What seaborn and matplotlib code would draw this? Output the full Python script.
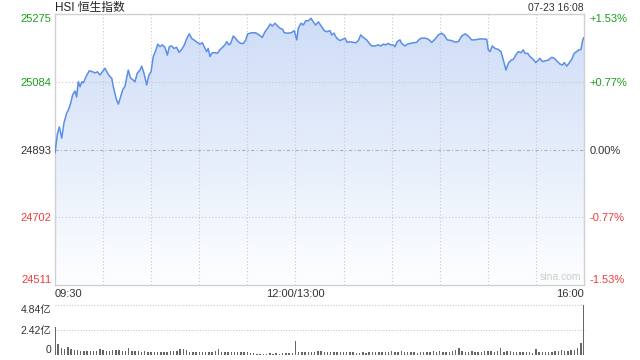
import numpy as np
import matplotlib
matplotlib.use("Agg")
import matplotlib.pyplot as plt
import seaborn as sns
from matplotlib.colors import LinearSegmentedColormap

# trading minutes since 09:30 (lunch break removed) and HSI level
minutes = [0, 1.4, 2.7, 4.2, 5.6, 7.3, 8.3, 9.8, 11.0, 12.5,
           13.5, 14.5, 15.6, 16.7, 17.7, 19.3, 21.4, 23.5, 25.0, 26.4,
           28.1, 29.5, 31.2, 32.6, 34.3, 35.4, 36.4, 38.1, 39.5, 40.5,
           42.2, 43.7, 45.7, 47.2, 48.8, 49.9, 51.3, 53.0, 54.1, 55.5,
           57.2, 58.6, 59.9, 61.3, 63.0, 64.1, 65.5, 66.9, 68.6, 70.1,
           71.3, 72.8, 74.2, 75.9, 77.4, 79.0, 80.7, 82.2, 83.8, 85.3,
           87.3, 89.0, 90.5, 91.9, 93.1, 94.6, 95.6, 96.7, 98.1, 99.8,
           101.2, 102.9, 104.4, 106.0, 107.1, 108.5, 109.6, 111.2, 112.7, 114.3,
           116.0, 117.5, 119.0, 120.2, 122.7, 125.2, 127.3, 129.3, 131.0, 132.7,
           134.3, 135.6, 137.2, 138.9, 140.4, 142.0, 143.0, 145.2, 147.2, 149.3,
           150.8, 151.8, 153.5, 154.9, 156.4, 158.0, 159.7, 161.1, 162.6, 164.3,
           166.4, 168.0, 169.5, 171.5, 172.6, 174.0, 175.7, 177.8, 179.5, 180.9,
           182.3, 184.0, 186.1, 187.8, 189.2, 190.7, 192.3, 194.4, 196.1, 197.6,
           199.6, 201.7, 203.2, 204.8, 206.3, 207.9, 209.4, 211.0, 212.1, 213.5,
           215.2, 216.3, 218.3, 219.8, 221.5, 223.5, 225.6, 227.3, 228.8, 230.8,
           232.9, 235.0, 237.0, 239.1, 241.2, 242.7, 244.7, 247.5, 249.5, 251.6,
           253.7, 255.8, 257.8, 259.9, 262.0, 264.1, 265.7, 267.8, 269.3, 270.3,
           271.4, 272.8, 274.5, 276.5, 278.2, 279.7, 281.3, 282.8, 284.5, 285.9,
           287.4, 289.0, 290.7, 292.1, 293.2, 294.9, 296.3, 298.4, 299.9, 301.5,
           302.5, 304.0, 305.7, 307.7, 309.8, 311.5, 313.0, 315.0, 316.5, 317.7,
           319.2, 320.6, 322.3, 323.9, 325.4, 326.9, 328.1, 329.2, 330.0]
prices = [24883, 24934, 24957, 24925, 24968, 24996, 25004, 25024, 25047, 25058,
          25041, 25084, 25070, 25084, 25081, 25098, 25115, 25112, 25109, 25112,
          25103, 25112, 25122, 25110, 25098, 25094, 25070, 25037, 25021, 25035,
          25061, 25072, 25117, 25094, 25089, 25084, 25108, 25117, 25128, 25108,
          25075, 25103, 25112, 25155, 25174, 25190, 25183, 25188, 25181, 25159,
          25183, 25185, 25178, 25181, 25167, 25175, 25188, 25206, 25219, 25206,
          25200, 25194, 25190, 25194, 25183, 25169, 25178, 25155, 25166, 25166,
          25164, 25174, 25181, 25188, 25197, 25188, 25192, 25213, 25206, 25197,
          25192, 25192, 25202, 25219, 25222, 25222, 25216, 25209, 25225, 25235,
          25247, 25241, 25249, 25241, 25235, 25232, 25222, 25221, 25222, 25228,
          25202, 25235, 25249, 25244, 25256, 25256, 25263, 25253, 25244, 25253,
          25239, 25228, 25225, 25228, 25216, 25221, 25207, 25200, 25204, 25207,
          25195, 25197, 25195, 25194, 25200, 25216, 25209, 25202, 25192, 25185,
          25185, 25188, 25185, 25190, 25188, 25192, 25188, 25188, 25183, 25197,
          25202, 25192, 25185, 25190, 25192, 25194, 25195, 25204, 25207, 25207,
          25204, 25195, 25204, 25216, 25221, 25216, 25202, 25200, 25196, 25197,
          25213, 25219, 25213, 25202, 25202, 25204, 25205, 25204, 25204, 25174,
          25169, 25185, 25178, 25175, 25169, 25145, 25117, 25136, 25145, 25147,
          25159, 25169, 25166, 25174, 25164, 25164, 25155, 25147, 25138, 25145,
          25150, 25141, 25143, 25145, 25153, 25150, 25143, 25134, 25131, 25138,
          25128, 25136, 25147, 25164, 25169, 25174, 25175, 25202, 25209]

# volume (亿), one bar per 2 trading minutes
volume = [2.68, 1.10, 0.65, 0.62, 0.75, 0.56, 0.50, 0.45, 0.40, 0.42,
          0.42, 0.40, 0.42, 0.42, 0.62, 0.45, 0.42, 0.42, 0.45, 0.50,
          0.45, 0.40, 0.42, 0.65, 0.42, 0.38, 0.36, 0.32, 0.34, 0.32,
          0.32, 0.30, 0.26, 0.26, 0.25, 0.32, 0.36, 0.38, 0.36, 0.58,
          0.62, 0.45, 0.32, 0.28, 0.28, 0.32, 0.32, 0.32, 0.30, 0.28,
          0.40, 0.58, 0.32, 0.28, 0.30, 0.30, 0.26, 0.28, 0.26, 0.26,
          0.28, 0.24, 0.18, 0.14, 0.12, 0.14, 0.14, 0.16, 0.13, 0.16,
          0.14, 0.16, 0.18, 0.20, 0.22, 1.32, 0.30, 0.28, 0.32, 0.30,
          0.32, 0.30, 0.36, 0.38, 0.32, 0.32, 0.30, 0.32, 0.26, 0.32,
          0.30, 0.26, 0.28, 0.26, 0.24, 0.24, 0.26, 0.24, 0.26, 0.28,
          0.32, 0.30, 0.30, 0.32, 0.32, 0.36, 0.32, 0.32, 0.36, 0.32,
          0.28, 0.26, 0.26, 0.24, 0.26, 0.28, 0.30, 0.32, 0.36, 0.26,
          0.34, 0.32, 0.28, 0.30, 0.36, 0.48, 0.71, 0.42, 0.32, 0.28,
          0.42, 0.30, 0.32, 0.32, 0.38, 0.38, 0.36, 0.32, 0.38, 0.65,
          0.30, 0.34, 0.38, 0.32, 0.28, 0.26, 0.32, 0.26, 0.28, 0.24,
          0.58, 0.32, 0.26, 0.28, 0.28, 0.30, 0.34, 0.40, 0.44, 0.40,
          0.42, 0.45, 0.48, 0.71, 1.13, 4.84]
vol_minutes = np.arange(0, 331, 2)

prev_close = 24893
price_ticks = [24511, 24702, 24893, 25084, 25275]
pct_labels = ['-1.53%', '-0.77%', '0.00%', '+0.77%', '+1.53%']
tick_colors = ['#f23a3a', '#f23a3a', '#333333', '#1a9e1a', '#1a9e1a']
time_ticks = [0, 150, 330]
time_labels = ['09:30', '12:00/13:00', '16:00']
vol_ticks = [0, 2.42, 4.84]
vol_labels = ['0', '2.42亿', '4.84亿']

sns.set_style("white")
plt.rcParams['font.family'] = ['Liberation Sans', 'Noto Sans CJK SC', 'DejaVu Sans']

fig = plt.figure(figsize=(6.4, 3.6), dpi=100)
ax = fig.add_axes([55/640, 1-285/360, 529/640, 271/360])
axv = fig.add_axes([55/640, 1-355/360, 529/640, 50/360])

ylo, yhi = price_ticks[0], price_ticks[-1]

# gradient area under the line
poly = ax.fill_between(minutes, prices, ylo, color='none', lw=0)
cmap = LinearSegmentedColormap.from_list('blu', ['#fdfeff', '#cddcf7'])
grad = np.linspace(0, 1, 256).reshape(-1, 1)
im = ax.imshow(grad, aspect='auto', cmap=cmap, origin='lower',
               extent=[0, 330, ylo, yhi], zorder=1)
im.set_clip_path(poly.get_paths()[0], transform=ax.transData)

sns.lineplot(x=minutes, y=prices, ax=ax, color='#5b8eea', lw=1.1, zorder=3)

ax.set_xlim(0, 330)
ax.set_ylim(ylo, yhi)

# grid
for m in range(30, 330, 30):
    ax.axvline(m, color='#c8c8c8', lw=0.8, ls=(0, (1, 2)), zorder=2)
for p in [24702, 25084]:
    ax.axhline(p, color='#c8c8c8', lw=0.8, ls=(0, (1, 2)), zorder=2)
ax.axhline(prev_close, color='#b0b0b0', lw=0.8, ls=(0, (3, 2, 1, 2)), zorder=2)

for s in ax.spines.values():
    s.set_color('#d0d0d0')
    s.set_linewidth(1.0)

ax.set_yticks(price_ticks)
ax.set_yticklabels([str(t) for t in price_ticks])
ax.tick_params(axis='y', length=0, pad=2.5, labelsize=8)
for lab, c in zip(ax.get_yticklabels(), tick_colors):
    lab.set_color(c)
ax.get_yticklabels()[0].set_va('bottom')
ax.get_yticklabels()[-1].set_va('top')

ax.set_xticks(time_ticks)
ax.set_xticklabels(time_labels)
ax.tick_params(axis='x', length=0, pad=3, labelsize=8, labelcolor='#333333')
xl = ax.get_xticklabels()
xl[0].set_ha('left')
xl[-1].set_ha('right')
ax.set_xlabel('')
ax.set_ylabel('')

ax2 = ax.twinx()
ax2.set_ylim(ylo, yhi)
ax2.set_yticks(price_ticks)
ax2.set_yticklabels(pct_labels)
ax2.tick_params(axis='y', length=0, pad=4, labelsize=8)
for lab, c in zip(ax2.get_yticklabels(), tick_colors):
    lab.set_color(c)
ax2.get_yticklabels()[0].set_va('bottom')
ax2.get_yticklabels()[-1].set_va('top')
for s in ax2.spines.values():
    s.set_visible(False)

fig.text(55/640, 1-8/360, 'HSI 恒生指数', ha='left', va='center',
         fontsize=8.5, color='#222222')
fig.text(584/640, 1-8/360, '07-23 16:08', ha='right', va='center',
         fontsize=7.5, color='#333333')
ax.text(0.955, 0.012, 'sina.com', transform=ax.transAxes, ha='center', va='bottom',
        fontsize=7.5, color='#cccccc')

# volume panel
axv.bar(vol_minutes, volume, width=0.9, color='#666666', linewidth=0, zorder=3)
axv.set_xlim(0, 330)
axv.set_ylim(0, 4.84)
for v in vol_ticks[1:]:
    axv.axhline(v, color='#c8c8c8', lw=0.8, ls=(0, (1, 1.5)), zorder=1, clip_on=False)
axv.set_yticks(vol_ticks)
axv.set_yticklabels(vol_labels)
axv.tick_params(axis='y', length=0, pad=2.5, labelsize=7.5, labelcolor='#333333')
vl = axv.get_yticklabels()
vl[0].set_va('bottom')
vl[-1].set_va('top')
axv.set_xticks([])
for s in axv.spines.values():
    s.set_visible(False)

fig.savefig('out.png', dpi=100)
